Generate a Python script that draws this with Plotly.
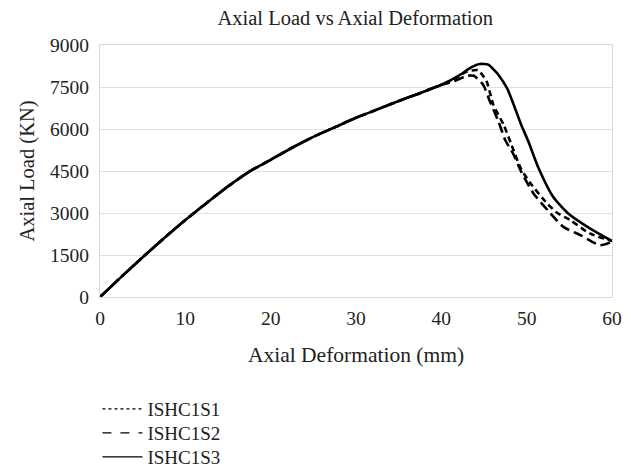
import plotly.graph_objects as go

# Rising branch (shared by all three specimens)
rise_x = [0, 2.5, 5, 7.5, 10, 12.5, 15, 17.5, 20, 22.5, 25, 27.5, 30, 32.5, 35, 37.5, 40]
rise_y = [0, 720, 1420, 2100, 2750, 3360, 3950, 4480, 4900, 5330, 5720, 6060, 6400, 6700, 7000, 7280, 7580]

# Post-peak branches
s1_tail_x = [41.5, 43.0, 43.8, 44.9, 45.7, 46.7, 47.5, 48.4, 49.4, 50.8, 52.8, 54.3, 56.3, 58.6, 60.0]
s1_tail_y = [7700, 7900, 7900, 7580, 6980, 6265, 5600, 5130, 4450, 3700, 2985, 2505, 2210, 1850, 1970]

s2_tail_x = [41.5, 43.0, 44.3, 45.3, 46.1, 47.3, 48.2, 49.3, 50.4, 52.4, 53.6, 55.1, 57.4, 60.0]
s2_tail_y = [7780, 8050, 8100, 7700, 6860, 6150, 5450, 4600, 4080, 3340, 3000, 2745, 2270, 2000]

s3_tail_x = [42.0, 43.5, 44.5, 45.5, 46.2, 46.7, 47.7, 48.5, 49.3, 50.2, 51.4, 53.1, 54.8, 57.4, 60.0]
s3_tail_y = [7900, 8200, 8320, 8300, 8100, 7930, 7460, 6850, 6200, 5550, 4600, 3580, 3000, 2450, 2000]

names = ["ISHC1S1", "ISHC1S2", "ISHC1S3"]
x_ticks = [0, 10, 20, 30, 40, 50, 60]
y_ticks = [0, 1500, 3000, 4500, 6000, 7500, 9000]

series = [
    (rise_x + s1_tail_x, rise_y + s1_tail_y, "10px,5px", "dot"),
    (rise_x + s2_tail_x, rise_y + s2_tail_y, "6px,4px", "dash"),
    (rise_x + s3_tail_x, rise_y + s3_tail_y, "solid", "solid"),
]

FONT = "Liberation Serif, Times New Roman, serif"
fig = go.Figure()
for (xs, ys, dash, _), nm in zip(series, names):
    fig.add_trace(go.Scatter(x=xs, y=ys, mode="lines", name=nm, showlegend=False,
                             line=dict(color="black", width=2.6, dash=dash, shape="spline", smoothing=0.6)))
legend_ids = ["legend", "legend2", "legend3"]
legend_tops = [-0.369, -0.464, -0.5595]
for (_, _, _, ldash), nm, lid in zip(series, names, legend_ids):
    fig.add_trace(go.Scatter(x=[None], y=[None], mode="lines", name=nm, showlegend=True,
                             legend=lid, line=dict(color="black", width=1.3, dash=ldash)))

leg_common = dict(x=-0.005, xanchor="left", yanchor="top",
                  font=dict(size=19, color="#222"), itemwidth=40,
                  bgcolor="rgba(0,0,0,0)")

fig.update_layout(
    width=631, height=475,
    margin=dict(l=100, r=19, t=45, b=178, autoexpand=False),
    paper_bgcolor="white", plot_bgcolor="white",
    font=dict(family=FONT, size=19, color="#222"),
    title=dict(text="Axial Load vs Axial Deformation", x=0.563, xanchor="center",
               y=0.962, yanchor="middle", font=dict(size=20.5, color="#222")),
    legend=dict(y=legend_tops[0], **leg_common),
    legend2=dict(y=legend_tops[1], **leg_common),
    legend3=dict(y=legend_tops[2], **leg_common),
)
fig.update_xaxes(range=[0, 60], tickvals=x_ticks, showgrid=False, zeroline=False,
                 showline=True, mirror=True, linecolor="#d9d9d9", linewidth=1,
                 ticks="", tickfont=dict(size=19.5, color="#222"), ticklabelstandoff=4,
                 title=dict(text="Axial Deformation (mm)", standoff=18, font=dict(size=21.5)))
fig.update_yaxes(range=[0, 9000], tickvals=y_ticks, showgrid=True, gridcolor="#e0e0e0",
                 zeroline=False, showline=True, mirror=True, linecolor="#d9d9d9", linewidth=1,
                 ticks="", tickfont=dict(size=19.5, color="#222"), ticklabelstandoff=6,
                 title=dict(text="Axial Load (KN)", standoff=9, font=dict(size=20.5)))

fig.write_html("out.html")
